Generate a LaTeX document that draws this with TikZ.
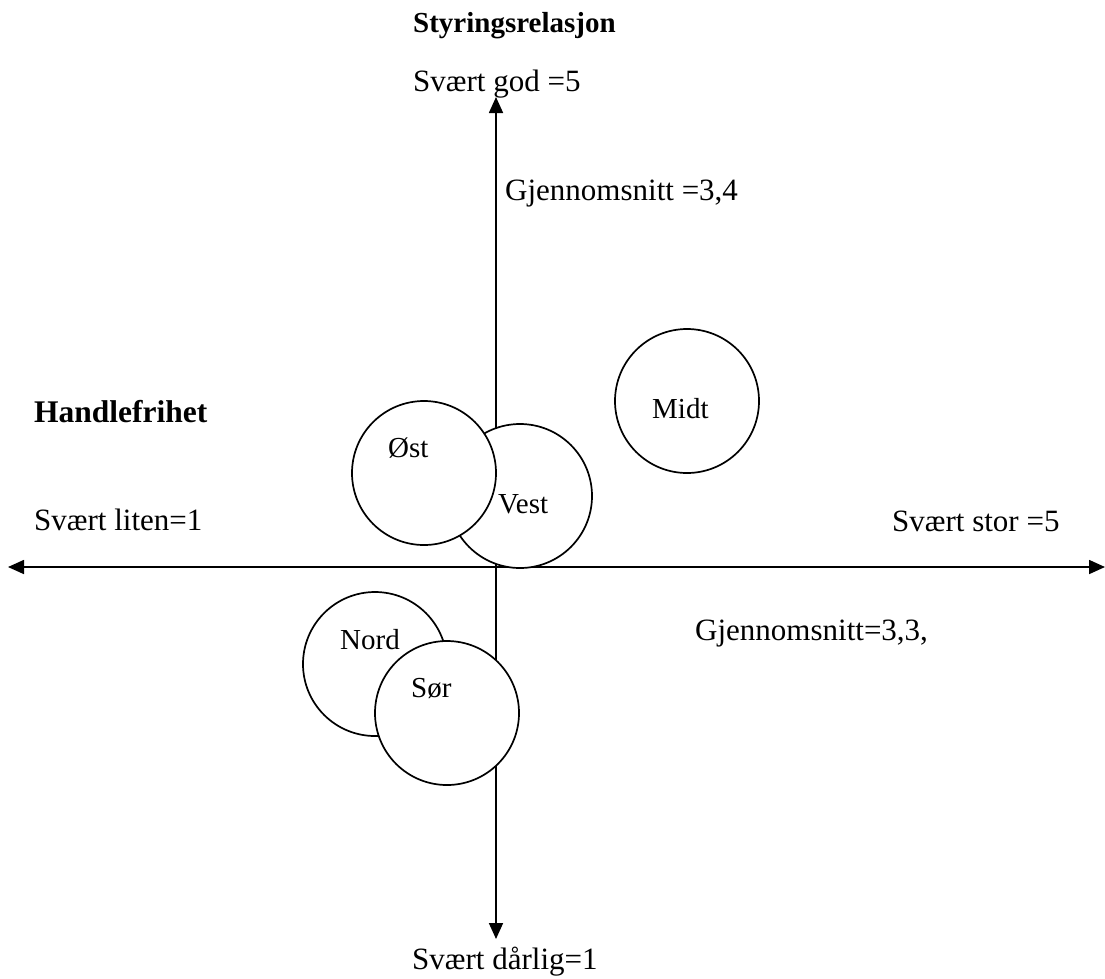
\documentclass[tikz,border=0pt]{standalone}
\usepackage{fontspec}
\setmainfont{Liberation Serif}
\usetikzlibrary{arrows.meta}

\begin{document}
\begin{tikzpicture}[x=1pt, y=-1pt,
  >={Triangle[length=16pt, width=14pt]},
  axis/.style={line width=1.7pt, black, <->},
  disc/.style={circle, draw=black, line width=1.7pt, fill=white,
               minimum size=144pt, inner sep=0pt},
  txt/.style={anchor=base west, inner sep=0pt,
              font=\fontsize{31}{36}\selectfont},
  lbl/.style={anchor=base west, inner sep=0pt,
              font=\fontsize{29}{34}\selectfont}]
  \useasboundingbox (0,0) rectangle (1105,978);

  % axis end points
  \coordinate (west)  at (8,567);
  \coordinate (east)  at (1105,567);
  \coordinate (north) at (496,97);
  \coordinate (south) at (496,939);

  \draw[axis] (west) -- (east);
  \draw[axis] (south) -- (north);

  % regions
  \node[disc] (vest) at (520,496) {};
  \node[disc] (ost)  at (424,473) {};
  \node[disc] (midt) at (687,401) {};
  \node[disc] (nord) at (375,664) {};
  \node[disc] (sor)  at (447,713) {};

  \node[lbl] (vestlbl) at (498,513) {Vest};
  \node[lbl] (ostlbl)  at (388,457) {Øst};
  \node[lbl] (midtlbl) at (652,418) {Midt};
  \node[lbl] (nordlbl) at (340,649) {Nord};
  \node[lbl] (sorlbl)  at (411,697) {Sør};

  % axis texts
  \node[txt, font=\fontsize{29}{34}\selectfont\bfseries] (ytitle) at (413,32) {Styringsrelasjon};
  \node[txt] (ymax)   at (413,91) {Svært god =5};
  \node[txt] (ymean)  at (505,200) {Gjennomsnitt =3,4};
  \node[txt, font=\fontsize{31.5}{36}\selectfont\bfseries] (xtitle) at (34,422) {Handlefrihet};
  \node[txt] (xmin)   at (34,530) {Svært liten=1};
  \node[txt] (xmax)   at (892,531) {Svært stor =5};
  \node[txt] (xmean)  at (695,640) {Gjennomsnitt=3,3,};
  \node[txt] (ymin)   at (412,969) {Svært dårlig=1};
\end{tikzpicture}
\end{document}
